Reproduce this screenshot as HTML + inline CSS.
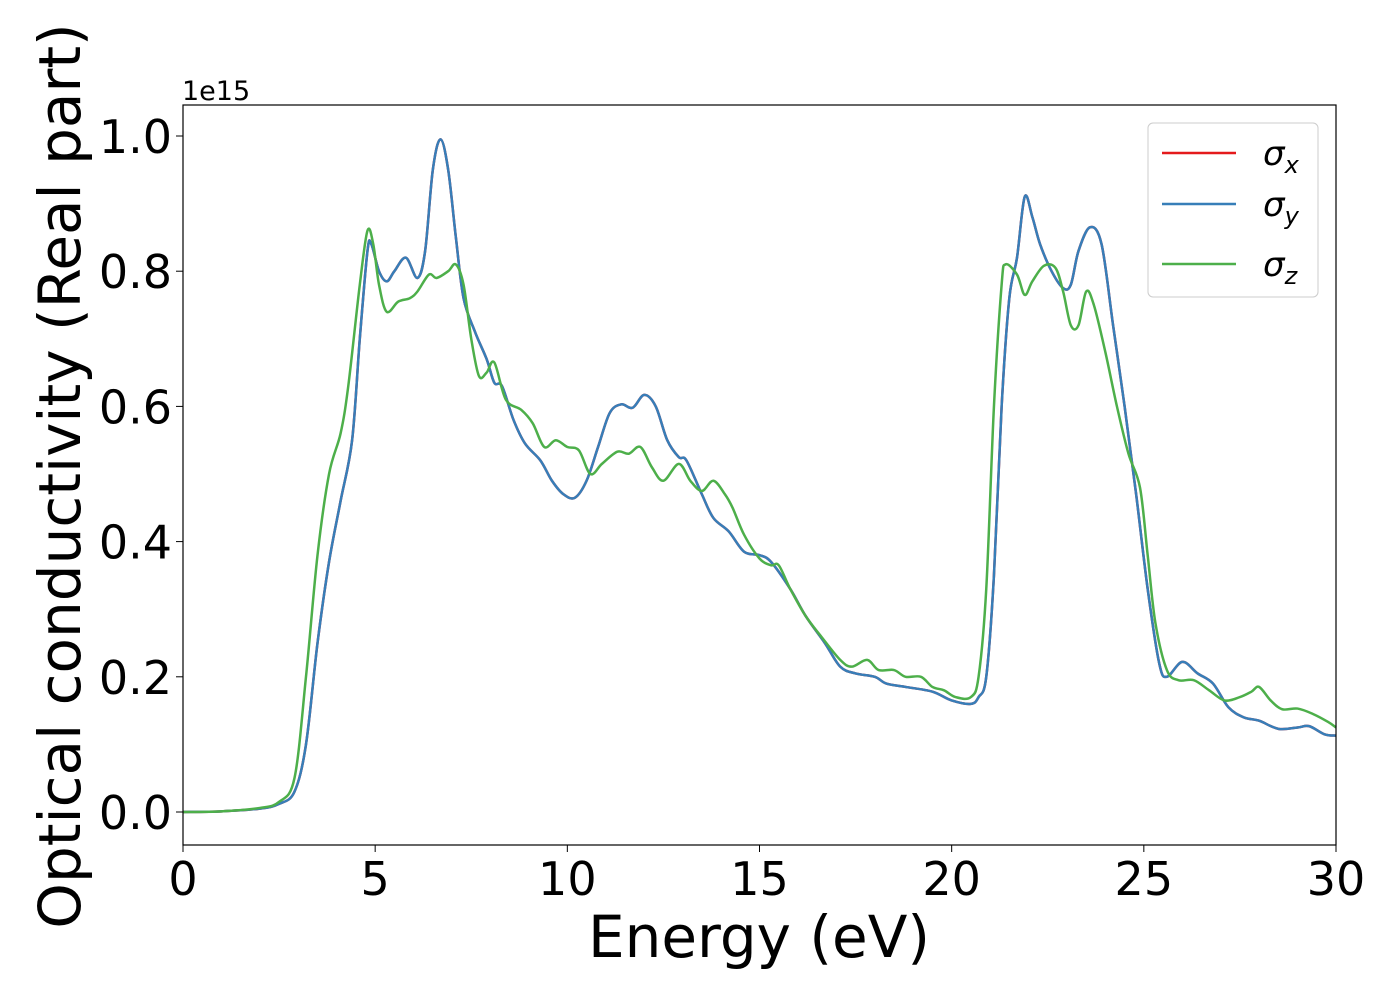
<!DOCTYPE html>
<html><head><meta charset="utf-8"><style>
body{margin:0;background:#fff}
svg{font-family:"DejaVu Sans","Liberation Sans",sans-serif}
</style></head><body>
<svg id="chart" width="1400" height="1000" viewBox="0 0 1400 1000" xmlns="http://www.w3.org/2000/svg">
<rect width="1400" height="1000" fill="#fff"/>
<g id="series"></g>
<rect x="183" y="105" width="1153" height="740" fill="none" stroke="#000" stroke-width="1.2"/>
<g id="xticks"></g>
<g id="yticks"></g>
<text x="182" y="100" font-size="27">1e15</text>
<text x="759" y="957" font-size="58" text-anchor="middle">Energy (eV)</text>
<text transform="translate(80,476) rotate(-90)" font-size="58" text-anchor="middle">Optical conductivity (Real part)</text>
<g>
<rect x="1148" y="123" width="170" height="174" rx="5" fill="#fff" fill-opacity="0.8" stroke="#ccc"/>
<line x1="1162" y1="153" x2="1236" y2="153" stroke="#e41a1c" stroke-width="2.5"/>
<text x="1263" y="165" font-size="34" font-style="italic">σ<tspan font-size="24" dy="8">x</tspan></text>
<line x1="1162" y1="204" x2="1236" y2="204" stroke="#377eb8" stroke-width="2.5"/>
<text x="1263" y="216" font-size="34" font-style="italic">σ<tspan font-size="24" dy="8">y</tspan></text>
<line x1="1162" y1="264" x2="1236" y2="264" stroke="#4daf4a" stroke-width="2.5"/>
<text x="1263" y="276" font-size="34" font-style="italic">σ<tspan font-size="24" dy="8">z</tspan></text>
</g>
</svg>
<script>
const xyEnergy=[0,1,2,2.5,2.9,3.2,3.5,3.8,4.1,4.4,4.6,4.8,4.9,5.1,5.3,5.5,5.8,6.1,6.3,6.5,6.7,6.9,7.1,7.3,7.6,7.9,8.1,8.3,8.6,8.9,9.3,9.6,9.9,10.2,10.5,10.8,11.1,11.4,11.7,12.0,12.3,12.6,12.9,13.1,13.5,13.8,14.2,14.6,15.0,15.3,15.8,16.2,16.7,17.1,17.5,18,18.3,18.8,19.5,20,20.5,20.7,20.9,21.1,21.3,21.5,21.7,21.9,22.1,22.3,22.6,22.9,23.1,23.3,23.6,23.9,24.2,24.5,24.8,25.1,25.4,25.6,26.0,26.4,26.8,27.2,27.6,28,28.5,29,29.3,29.7,30];
const sigmaX=[0,0.001,0.005,0.012,0.03,0.1,0.25,0.37,0.46,0.55,0.7,0.83,0.84,0.8,0.785,0.8,0.82,0.79,0.83,0.95,0.995,0.95,0.85,0.76,0.71,0.67,0.635,0.63,0.58,0.545,0.52,0.49,0.47,0.465,0.49,0.54,0.59,0.603,0.598,0.617,0.6,0.55,0.525,0.52,0.47,0.435,0.415,0.385,0.38,0.37,0.33,0.29,0.25,0.215,0.205,0.2,0.19,0.185,0.178,0.165,0.16,0.17,0.2,0.35,0.6,0.76,0.82,0.91,0.88,0.84,0.8,0.775,0.78,0.83,0.865,0.84,0.72,0.6,0.47,0.33,0.22,0.2,0.222,0.205,0.19,0.155,0.14,0.135,0.123,0.125,0.127,0.115,0.113];
const sigmaY=sigmaX.slice();
const zEnergy=[0,1,2,2.5,2.9,3.2,3.5,3.8,4.1,4.3,4.6,4.8,4.95,5.1,5.3,5.6,5.9,6.1,6.4,6.6,6.9,7.1,7.3,7.5,7.7,7.9,8.1,8.4,8.8,9.1,9.4,9.7,10.0,10.3,10.6,10.9,11.3,11.6,11.9,12.2,12.5,12.9,13.2,13.5,13.8,14.1,14.3,14.6,15,15.3,15.5,15.8,16.2,16.6,17.1,17.4,17.8,18.1,18.5,18.8,19.2,19.5,19.8,20.1,20.5,20.7,20.9,21.1,21.3,21.4,21.7,21.9,22.1,22.4,22.7,22.9,23.1,23.3,23.5,23.7,24.0,24.3,24.6,24.9,25.1,25.3,25.6,25.9,26.3,26.7,27.1,27.5,27.8,28.0,28.3,28.6,29,29.4,29.8,30];
const sigmaZ=[0,0.001,0.006,0.015,0.05,0.2,0.38,0.5,0.56,0.63,0.78,0.86,0.84,0.78,0.74,0.755,0.76,0.77,0.795,0.79,0.8,0.81,0.78,0.7,0.645,0.65,0.665,0.61,0.595,0.575,0.54,0.55,0.54,0.535,0.5,0.515,0.533,0.53,0.54,0.51,0.49,0.515,0.49,0.475,0.49,0.47,0.45,0.41,0.375,0.365,0.365,0.33,0.29,0.26,0.225,0.215,0.225,0.21,0.21,0.2,0.2,0.185,0.18,0.17,0.17,0.2,0.33,0.6,0.78,0.81,0.795,0.765,0.785,0.808,0.805,0.77,0.72,0.72,0.77,0.75,0.68,0.6,0.53,0.48,0.38,0.28,0.21,0.195,0.195,0.18,0.165,0.17,0.178,0.185,0.165,0.152,0.153,0.145,0.133,0.125];
const xTicks=[0,5,10,15,20,25,30];
const yTicks=[0.0,0.2,0.4,0.6,0.8,1.0];
const X=e=>183+e*(1153/30);
const Y=v=>812-v*676;
const NS="http://www.w3.org/2000/svg";
function pathD(xs,ys){
  const p=xs.map((e,i)=>[X(e),Y(ys[i])]);
  let d="M"+p[0][0]+","+p[0][1];
  for(let i=0;i<p.length-1;i++){
    const p0=p[Math.max(0,i-1)],p1=p[i],p2=p[i+1],p3=p[Math.min(p.length-1,i+2)];
    const c1=[p1[0]+(p2[0]-p0[0])/6,p1[1]+(p2[1]-p0[1])/6];
    const c2=[p2[0]-(p3[0]-p1[0])/6,p2[1]-(p3[1]-p1[1])/6];
    d+=" C"+c1+" "+c2+" "+p2;
  }
  return d;
}
const g=document.getElementById("series");
[[xyEnergy,sigmaX,"#e41a1c","line-sigma-x"],[xyEnergy,sigmaY,"#377eb8","line-sigma-y"],[zEnergy,sigmaZ,"#4daf4a","line-sigma-z"]].forEach(s=>{
  const el=document.createElementNS(NS,"path");
  el.setAttribute("d",pathD(s[0],s[1]));
  el.setAttribute("fill","none");el.setAttribute("stroke",s[2]);el.setAttribute("stroke-width","2.5");
  
  
  g.appendChild(el);
});
const gx=document.getElementById("xticks");
xTicks.forEach(t=>{
  const l=document.createElementNS(NS,"line");
  l.setAttribute("x1",X(t));l.setAttribute("x2",X(t));l.setAttribute("y1",845);l.setAttribute("y2",852);l.setAttribute("stroke","#000");
  
  
  gx.appendChild(l);
  const tx=document.createElementNS(NS,"text");
  tx.setAttribute("x",X(t));tx.setAttribute("y",895);tx.setAttribute("font-size","46");tx.setAttribute("text-anchor","middle");
  tx.textContent=t;
  
  
  gx.appendChild(tx);
});
const gy=document.getElementById("yticks");
yTicks.forEach(t=>{
  const l=document.createElementNS(NS,"line");
  l.setAttribute("x1",176);l.setAttribute("x2",183);l.setAttribute("y1",Y(t));l.setAttribute("y2",Y(t));l.setAttribute("stroke","#000");
  
  
  gy.appendChild(l);
  const tx=document.createElementNS(NS,"text");
  tx.setAttribute("x",172);tx.setAttribute("y",Y(t)+17);tx.setAttribute("font-size","46");tx.setAttribute("text-anchor","end");
  tx.textContent=t.toFixed(1);
  
  
  gy.appendChild(tx);
});
</script>
</body></html>
